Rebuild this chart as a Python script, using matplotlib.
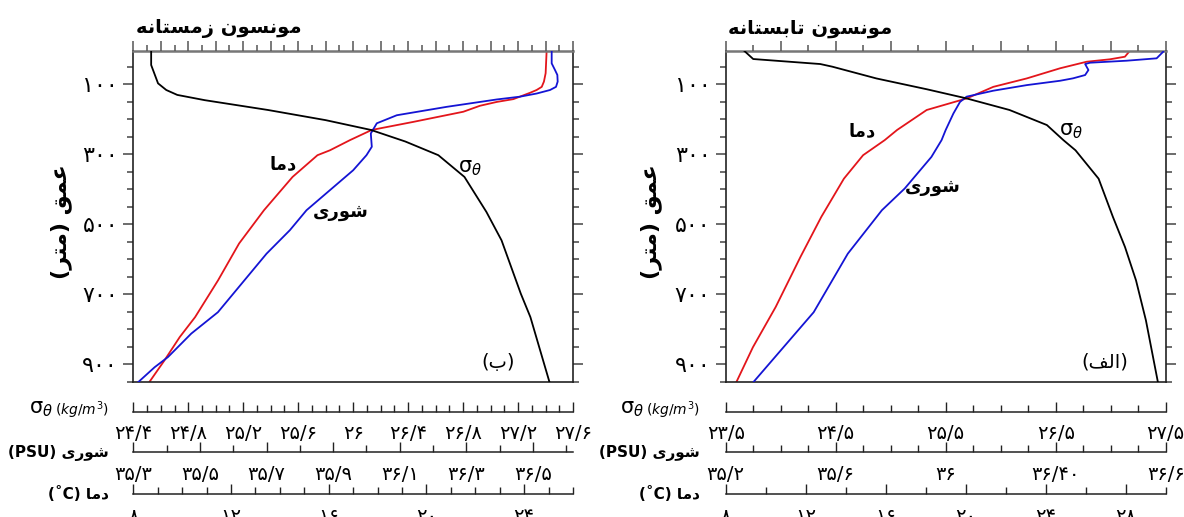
import matplotlib
matplotlib.use('Agg')
import matplotlib.pyplot as plt
from matplotlib.ticker import FixedLocator, MultipleLocator

plt.rcParams['font.family'] = ['DejaVu Sans']
plt.rcParams['mathtext.fontset'] = 'dejavusans'

# ---------------- data ----------------
# Winter monsoon (left panel, "ب")
w_temp_depth = [5.7, 69, 93, 108, 117, 125, 143, 151, 162, 179, 208, 231, 260, 289, 303, 365, 460, 555, 660, 765, 822, 889, 952]
w_temp = [24.92, 24.88, 24.81, 24.72, 24.51, 24.24, 23.56, 22.88, 22.19, 21.51, 19.46, 17.76, 16.87, 16.05, 15.54, 14.52, 13.35, 12.33, 11.47, 10.53, 9.90, 9.27, 8.64]

w_sal_depth = [5.7, 41, 60, 74, 93, 108, 117, 127, 136, 144, 151, 165, 189, 212, 241, 279, 303, 346, 460, 517, 584, 751, 812, 879, 908, 952]
w_sal = [36.556, 36.556, 36.566, 36.573, 36.574, 36.569, 36.551, 36.511, 36.461, 36.391, 36.341, 36.241, 36.091, 36.031, 36.013, 36.016, 36.0, 35.96, 35.82, 35.77, 35.70, 35.554, 35.474, 35.404, 35.364, 35.313]

w_sig_depth = [5.7, 45.7, 98, 117, 131, 146, 174, 203, 231, 264, 303, 365, 465, 546, 698, 765, 952]
w_sig = [24.53, 24.53, 24.58, 24.64, 24.72, 24.92, 25.38, 25.80, 26.13, 26.38, 26.62, 26.81, 26.97, 27.08, 27.22, 27.29, 27.43]

# Summer monsoon (right panel, "الف")
s_temp_depth = [7.7, 22, 29.4, 36.3, 55, 84, 108, 141, 174, 231, 260, 303, 370, 479, 593, 736, 851, 952]
s_temp = [28.17, 27.96, 27.21, 26.05, 24.72, 23.05, 21.38, 20.05, 18.05, 16.57, 15.95, 14.87, 13.91, 12.78, 11.74, 10.50, 9.36, 8.52]

s_sal_depth = [7.7, 26.6, 33.4, 39.1, 42.9, 60, 74.3, 83.7, 90.6, 103, 119, 136, 151, 184, 231, 260, 308, 398, 460, 584, 751, 952]
s_sal = [36.791, 36.767, 36.658, 36.525, 36.507, 36.519, 36.507, 36.463, 36.416, 36.295, 36.173, 36.076, 36.052, 36.028, 36.0, 35.985, 35.948, 35.851, 35.768, 35.644, 35.52, 35.299]

s_sig_depth = [5.7, 28.6, 42.9, 50.5, 84, 115, 141, 174, 217, 260, 289, 370, 479, 565, 660, 774, 952]
s_sig = [23.67, 23.75, 24.36, 24.47, 24.87, 25.33, 25.69, 26.08, 26.42, 26.57, 26.68, 26.89, 27.02, 27.13, 27.23, 27.32, 27.43]

depth_ticks = [100, 300, 500, 700, 900]

w_sig_ticks = [24.4, 24.8, 25.2, 25.6, 26.0, 26.4, 26.8, 27.2, 27.6]
w_sal_ticks = [35.3, 35.5, 35.7, 35.9, 36.1, 36.3, 36.5]
w_tmp_ticks = [8, 12, 16, 20, 24]
s_sig_ticks = [23.5, 24.5, 25.5, 26.5, 27.5]
s_sal_ticks = [35.2, 35.6, 36.0, 36.4, 36.8]
s_sal_labels = ['۳۵/۲', '۳۵/۶', '۳۶', '۳۶/۴۰', '۳۶/۶']
s_tmp_ticks = [8, 12, 16, 20, 24, 28]

# ---------------- Persian shaping helpers ----------------
FORMS = {
    'ا': ('\uFE8D', '\uFE8E', None, None),
    'ب': ('\uFE8F', '\uFE90', '\uFE91', '\uFE92'),
    'ت': ('\uFE95', '\uFE96', '\uFE97', '\uFE98'),
    'د': ('\uFEA9', '\uFEAA', None, None),
    'ر': ('\uFEAD', '\uFEAE', None, None),
    'ز': ('\uFEAF', '\uFEB0', None, None),
    'س': ('\uFEB1', '\uFEB2', '\uFEB3', '\uFEB4'),
    'ش': ('\uFEB5', '\uFEB6', '\uFEB7', '\uFEB8'),
    'ع': ('\uFEC9', '\uFECA', '\uFECB', '\uFECC'),
    'ف': ('\uFED1', '\uFED2', '\uFED3', '\uFED4'),
    'ق': ('\uFED5', '\uFED6', '\uFED7', '\uFED8'),
    'ل': ('\uFEDD', '\uFEDE', '\uFEDF', '\uFEE0'),
    'م': ('\uFEE1', '\uFEE2', '\uFEE3', '\uFEE4'),
    'ن': ('\uFEE5', '\uFEE6', '\uFEE7', '\uFEE8'),
    'ه': ('\uFEE9', '\uFEEA', '\uFEEB', '\uFEEC'),
    'و': ('\uFEED', '\uFEEE', None, None),
    'ی': ('\uFBFC', '\uFBFD', '\uFBFE', '\uFBFF'),
}


def fa(text):
    chars = list(text)
    out = []
    n = len(chars)
    for i, c in enumerate(chars):
        if c not in FORMS:
            out.append(c)
            continue
        iso, fin, ini, med = FORMS[c]
        prev = chars[i - 1] if i > 0 else None
        nxt = chars[i + 1] if i < n - 1 else None
        jp = prev in FORMS and FORMS[prev][2] is not None
        jn = (nxt in FORMS) and ini is not None
        if jp and jn:
            g = med
        elif jp:
            g = fin
        elif jn:
            g = ini
        else:
            g = iso
        out.append(g)
    s = ''.join(reversed(out))
    return s.translate(str.maketrans('()', ')('))


def pdig(v):
    s = f'{v:.1f}'.rstrip('0').rstrip('.') if isinstance(v, float) else str(v)
    return s.translate(str.maketrans('0123456789.', '۰۱۲۳۴۵۶۷۸۹/'))


# ---------------- figure ----------------
W, H = 1184, 517
fig = plt.figure(figsize=(W / 100, H / 100), dpi=100)

RED = '#e3151b'
BLUE = '#1414d4'

box_top, box_bot = 51, 382.3
axis_y = [411.7, 452.3, 494.3]


def fx(px):
    return px / W


def fy(py):
    return 1 - py / H


def make_panel(x0, x1, sig_lim, sal_lim, tmp_lim, top_major, top_minor,
               sig_ticks, sig_minor, sal_ticks, sal_labels, sal_minor,
               tmp_ticks, tmp_minor, tdata, sdata, gdata):
    rect = [fx(x0), fy(box_bot), fx(x1 - x0), (box_bot - box_top) / H]
    ax = fig.add_axes(rect)
    ax.set_xlim(tmp_lim)
    ax.set_ylim(951, 5.7)
    axs = ax.twiny()
    axs.set_xlim(sal_lim)
    axg = ax.twiny()
    axg.set_xlim(sig_lim)

    ax.tick_params(axis='x', which='both', bottom=False, top=False,
                   labelbottom=False, labeltop=False)
    axs.tick_params(axis='x', which='both', bottom=False, top=False,
                    labelbottom=False, labeltop=False)
    axg.xaxis.set_major_locator(MultipleLocator(top_major))
    axg.xaxis.set_minor_locator(MultipleLocator(top_minor))
    axg.tick_params(axis='x', which='both', top=True, bottom=False,
                    labeltop=False, labelbottom=False, direction='out',
                    color='#555555', width=1.1)
    axg.tick_params(axis='x', which='major', length=7)
    axg.tick_params(axis='x', which='minor', length=4)

    ax.yaxis.set_major_locator(FixedLocator(depth_ticks))
    ax.yaxis.set_minor_locator(MultipleLocator(50))
    ax.set_yticklabels([pdig(d) for d in depth_ticks])
    ax.tick_params(axis='y', which='both', left=True, right=True,
                   direction='out', color='#444444', width=1.1)
    ax.tick_params(axis='y', which='major', length=7, labelsize=16, pad=4)
    ax.tick_params(axis='y', which='minor', length=4)

    for a in (axs, axg):
        for sp in a.spines.values():
            sp.set_visible(False)
    for k in ('left', 'right', 'bottom'):
        ax.spines[k].set_color('#222222')
        ax.spines[k].set_linewidth(1.2)
    ax.spines['top'].set_color('#777777')
    ax.spines['top'].set_linewidth(1.8)

    ax.plot(tdata[0], tdata[1], color=RED, lw=1.3)
    axs.plot(sdata[0], sdata[1], color=BLUE, lw=1.3)
    axg.plot(gdata[0], gdata[1], color='black', lw=1.3)

    # bottom scales
    specs = [
        (axis_y[0], sig_lim, sig_ticks, [pdig(v) for v in sig_ticks], sig_minor),
        (axis_y[1], sal_lim, sal_ticks, sal_labels, sal_minor),
        (axis_y[2], tmp_lim, tmp_ticks, [pdig(v) for v in tmp_ticks], tmp_minor),
    ]
    for ypx, lim, ticks, labels, minor in specs:
        bx = fig.add_axes([fx(x0), fy(ypx), fx(x1 - x0), 0.0001])
        bx.patch.set_visible(False)
        for k in ('left', 'right', 'top'):
            bx.spines[k].set_visible(False)
        bx.spines['bottom'].set_color('#222222')
        bx.spines['bottom'].set_linewidth(1.1)
        bx.set_xlim(lim)
        bx.set_yticks([])
        bx.set_xticks(ticks, labels=labels)
        bx.xaxis.set_minor_locator(MultipleLocator(minor))
        bx.tick_params(axis='x', which='both', direction='in', color='#222222',
                       width=1.0)
        bx.tick_params(axis='x', which='major', length=7, labelsize=14, pad=9)
        bx.tick_params(axis='x', which='minor', length=5)
    return ax


axL = make_panel(133.3, 573.0, (24.4, 27.6), (35.3, 36.62), (8, 26), 0.2, 0.1,
                 w_sig_ticks, 0.1, w_sal_ticks, [pdig(v) for v in w_sal_ticks], 0.1,
                 w_tmp_ticks, 1,
                 (w_temp, w_temp_depth), (w_sal, w_sal_depth), (w_sig, w_sig_depth))
axR = make_panel(725.7, 1165.7, (23.5, 27.5), (35.2, 36.8), (8, 30), 0.5, 0.25,
                 s_sig_ticks, 0.25, s_sal_ticks, s_sal_labels, 0.1,
                 s_tmp_ticks, 2,
                 (s_temp, s_temp_depth), (s_sal, s_sal_depth), (s_sig, s_sig_depth))

SIG = 'σ$_\\theta$'

# curve labels
lbl = dict(ha='center', va='center', fontsize=13, weight='bold')
axL.text(0.34, 0.659, fa('دما'), transform=axL.transAxes, **lbl)
axL.text(0.471, 0.513, fa('شوری'), transform=axL.transAxes, **lbl)
axL.text(0.766, 0.647, SIG, transform=axL.transAxes,
         ha='center', va='center', fontsize=15)
axL.text(0.83, 0.06, fa('(ب)'), transform=axL.transAxes,
         ha='center', va='center', fontsize=14)

axR.text(0.31, 0.758, fa('دما'), transform=axR.transAxes, **lbl)
axR.text(0.471, 0.590, fa('شوری'), transform=axR.transAxes, **lbl)
axR.text(0.785, 0.76, SIG, transform=axR.transAxes,
         ha='center', va='center', fontsize=15)
axR.text(0.862, 0.06, fa('(الف)'), transform=axR.transAxes,
         ha='center', va='center', fontsize=14)

# titles
fig.text(fx(135.6), fy(28), fa('مونسون زمستانه'), ha='left', va='center',
         fontsize=14, weight='bold')
fig.text(fx(728.4), fy(28), fa('مونسون تابستانه'), ha='left', va='center',
         fontsize=14, weight='bold')

# y labels
for xc in (61, 651.5):
    fig.text(fx(xc), fy(222), fa('عمق (متر)'), rotation=90, ha='center',
             va='center', fontsize=16, weight='bold')

# bottom scale labels
for xr in (108.8, 700.0):
    fig.text(fx(xr), fy(410), r'$(kg/m^3)$', ha='right', va='center', fontsize=10)
    fig.text(fx(xr - 56), fy(409), SIG, ha='right', va='center', fontsize=15)
    fig.text(fx(xr), fy(453), '(PSU) ' + fa('شوری'), ha='right', va='center',
             fontsize=11, weight='bold')
    fig.text(fx(xr), fy(494), '(˚C) ' + fa('دما'), ha='right', va='center',
             fontsize=11, weight='bold')

fig.savefig('out.png', dpi=100)
